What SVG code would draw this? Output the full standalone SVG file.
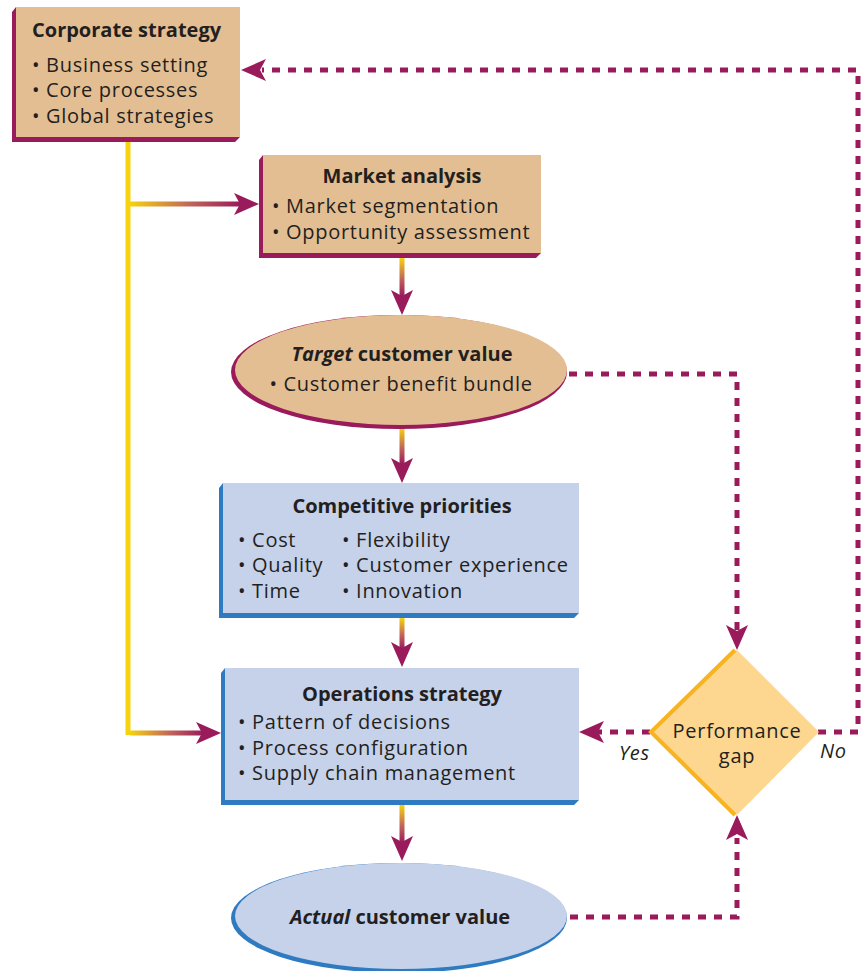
<svg xmlns="http://www.w3.org/2000/svg" xmlns:xlink="http://www.w3.org/1999/xlink" width="861" height="971" viewBox="0 0 861 971">
<style>
.t{font-family:"Open Sans","Liberation Sans",sans-serif;font-size:20px;fill:#231f20;letter-spacing:0.7px}
.b{font-family:"Open Sans","Liberation Sans",sans-serif;font-size:20px;font-weight:bold;fill:#231f20}
.tan{fill:#e4be93}
.blu{fill:#c6d1ea}
.mg{fill:#9a1b5b}
.be{fill:#2f7bc1}
.dot{fill:none;stroke:#9a1b5b;stroke-width:5;stroke-dasharray:8 8}
</style>
<defs>
<linearGradient id="gh" x1="0" y1="0" x2="1" y2="0"><stop offset="0" stop-color="#f6d20f"/><stop offset="0.55" stop-color="#c0655a"/><stop offset="1" stop-color="#9a1b5b"/></linearGradient>
<linearGradient id="gv" x1="0" y1="0" x2="0" y2="1"><stop offset="0" stop-color="#f6d20f"/><stop offset="0.55" stop-color="#c0655a"/><stop offset="1" stop-color="#9a1b5b"/></linearGradient>
<path id="ah" d="M0,0 L-25,-11 L-19,0 L-25,11 Z" fill="#9a1b5b"/>
</defs>

<g id="connectors">
<rect x="125.5" y="142" width="5" height="593" fill="#f6d20f"/>
<rect x="130" y="201.5" width="110" height="5" fill="url(#gh)"/>
<use xlink:href="#ah" transform="translate(259,204)"/>
<rect x="130" y="730.5" width="73" height="5" fill="url(#gh)"/>
<use xlink:href="#ah" transform="translate(221,733)"/>
<rect x="399.5" y="258" width="5" height="38" fill="url(#gv)"/>
<use xlink:href="#ah" transform="translate(402,315) rotate(90)"/>
<rect x="399.5" y="428" width="5" height="36" fill="url(#gv)"/>
<use xlink:href="#ah" transform="translate(402,483) rotate(90)"/>
<rect x="399.5" y="618" width="5" height="31" fill="url(#gv)"/>
<use xlink:href="#ah" transform="translate(402,667) rotate(90)"/>
<rect x="399.5" y="805" width="5" height="38" fill="url(#gv)"/>
<use xlink:href="#ah" transform="translate(402,861) rotate(90)"/>
<path class="dot" d="M569,374 H737 V630"/>
<use xlink:href="#ah" transform="translate(737,650) rotate(90)"/>
<path class="dot" d="M570,917 H737 V838"/>
<use xlink:href="#ah" transform="translate(737,815) rotate(-90)"/>
<path class="dot" d="M650,732 H598"/>
<use xlink:href="#ah" transform="translate(579,732) rotate(180)"/>
<path class="dot" d="M818,732 H858 V70 H262"/>
<use xlink:href="#ah" transform="translate(241,70) rotate(180)"/>
</g>

<g id="corporate-strategy">
<polygon class="mg" points="16,7 12,12 12,142 235,142 240,137 16,137"/>
<rect class="tan" x="16" y="7" width="224" height="130"/>
<text class="b" x="32" y="37">Corporate strategy</text>
<text class="t" x="32" y="72">• Business setting</text>
<text class="t" x="32" y="97">• Core processes</text>
<text class="t" x="32" y="123">• Global strategies</text>
</g>

<g id="market-analysis">
<polygon class="mg" points="263,155 259,160 259,258 536,258 541,253 263,253"/>
<rect class="tan" x="263" y="155" width="278" height="98"/>
<text class="b" x="402" y="183" text-anchor="middle">Market analysis</text>
<text class="t" x="272" y="213">• Market segmentation</text>
<text class="t" x="272" y="239">• Opportunity assessment</text>
</g>

<g id="target-customer-value">
<ellipse class="mg" cx="399" cy="372" rx="168" ry="57"/>
<ellipse class="tan" cx="401" cy="370" rx="166" ry="55"/>
<text class="b" x="402" y="361" text-anchor="middle"><tspan font-style="italic">Target</tspan> customer value</text>
<text class="t" x="401" y="391" text-anchor="middle">• Customer benefit bundle</text>
</g>

<g id="competitive-priorities">
<polygon class="be" points="223,483 219,488 219,618 574,618 579,613 223,613"/>
<rect class="blu" x="223" y="483" width="356" height="130"/>
<text class="b" x="402" y="513" text-anchor="middle">Competitive priorities</text>
<text class="t" x="238" y="547">• Cost</text>
<text class="t" x="238" y="572">• Quality</text>
<text class="t" x="238" y="598">• Time</text>
<text class="t" x="342" y="547">• Flexibility</text>
<text class="t" x="342" y="572">• Customer experience</text>
<text class="t" x="342" y="598">• Innovation</text>
</g>

<g id="operations-strategy">
<polygon class="be" points="225,668 221,673 221,805 574,805 579,800 225,800"/>
<rect class="blu" x="225" y="668" width="354" height="132"/>
<text class="b" x="402" y="701" text-anchor="middle">Operations strategy</text>
<text class="t" x="238" y="729">• Pattern of decisions</text>
<text class="t" x="238" y="755">• Process configuration</text>
<text class="t" x="238" y="780">• Supply chain management</text>
</g>

<g id="performance-gap">
<polygon points="737,650 819,732 737,815 651,732" fill="#fdd68f"/>
<polyline points="735,650 651,732 735,815" fill="none" stroke="#f7b320" stroke-width="4"/>
<text class="t" x="737" y="738" text-anchor="middle" font-size="19" letter-spacing="0.5">Performance</text>
<text class="t" x="737" y="763" text-anchor="middle" font-size="19">gap</text>
<text class="t" x="619" y="760" font-style="italic">Yes</text>
<text class="t" x="820" y="758" font-style="italic">No</text>
</g>

<g id="actual-customer-value">
<ellipse class="be" cx="399" cy="918" rx="168" ry="55"/>
<ellipse class="blu" cx="401" cy="916" rx="166" ry="53"/>
<text class="b" x="400" y="924" text-anchor="middle"><tspan font-style="italic">Actual</tspan> customer value</text>
</g>
</svg>
